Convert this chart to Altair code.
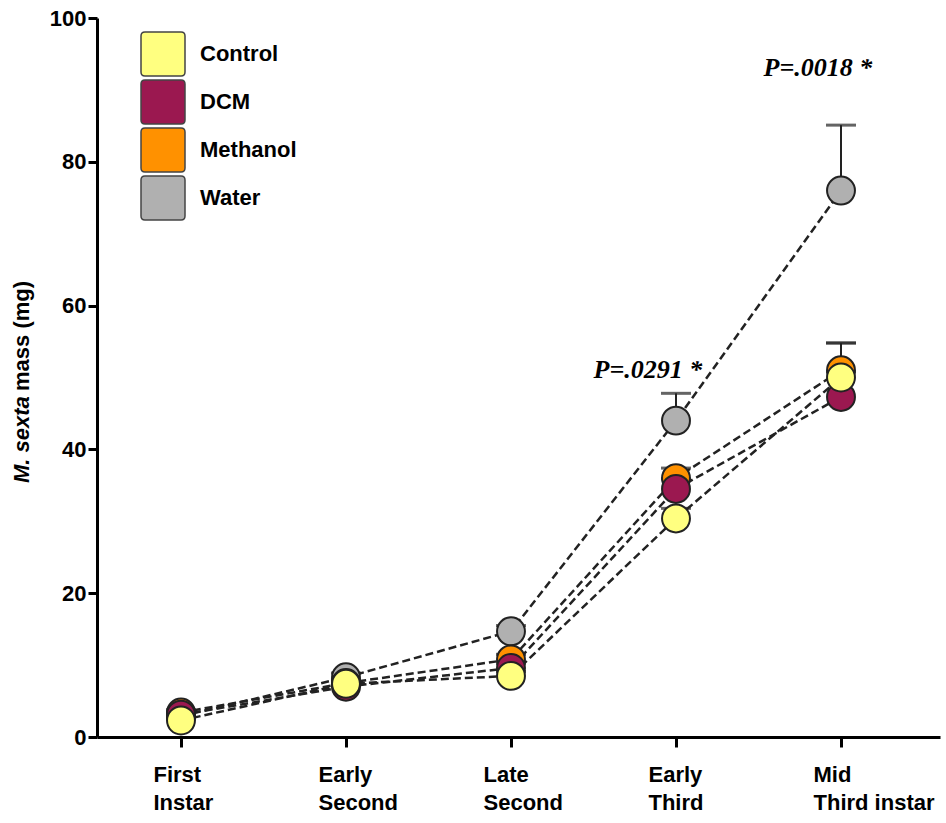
import altair as alt
import pandas as pd

# ---- data ----
stages = ["First|Instar", "Early|Second", "Late|Second", "Early|Third", "Mid|Third instar"]
groups = ["Control", "DCM", "Methanol", "Water"]
colors = ["#FFFF80", "#9B1850", "#FF9100", "#B0B0B0"]

control_mass = [2.3, 7.4, 8.5, 30.4, 50.0]
dcm_mass = [3.1, 7.0, 9.6, 34.5, 47.3]
methanol_mass = [3.4, 7.5, 10.8, 36.0, 51.0]
water_mass = [2.9, 8.3, 14.7, 44.0, 76.0]

control_sem = [0.3, 0.5, 0.6, 1.4, 4.8]
dcm_sem = [0.3, 0.5, 0.6, 1.4, 3.5]
methanol_sem = [0.4, 0.5, 0.7, 1.4, 3.8]
water_sem = [0.3, 0.6, 0.8, 3.8, 9.1]

p_texts = ["P=.0291 *", "P=.0018 *"]
p_stage = [2.83, 3.86]
p_mass = [51.0, 93.0]

# ---- table ----
series = {
    "Control": (control_mass, control_sem),
    "DCM": (dcm_mass, dcm_sem),
    "Methanol": (methanol_mass, methanol_sem),
    "Water": (water_mass, water_sem),
}
draw_order = {"Water": 0, "Methanol": 1, "DCM": 2, "Control": 3}
rows = []
for g, (m, s) in series.items():
    for i, st in enumerate(stages):
        rows.append({"idx": i, "stage": st, "group": g, "mass": m[i],
                     "upper": m[i] + s[i], "draw": draw_order[g]})
df = pd.DataFrame(rows)
ann = pd.DataFrame({"x": p_stage, "y": p_mass, "text": p_texts})

label_expr = "split([" + ",".join("'%s'" % s for s in stages) + "][datum.value], '|')"

FONT = "Liberation Sans"
rounded_sq = ("M -0.82 -1 L 0.82 -1 Q 1 -1 1 -0.82 L 1 0.82 Q 1 1 0.82 1 "
              "L -0.82 1 Q -1 1 -1 0.82 L -1 -0.82 Q -1 -1 -0.82 -1 Z")

x_scale = alt.Scale(domain=[-0.509, 4.6], nice=False, zero=False)
y_scale = alt.Scale(domain=[0, 100], nice=False)

x_enc = alt.X("idx:Q", scale=x_scale, title=None,
              axis=alt.Axis(values=[0, 1, 2, 3, 4], labelExpr=label_expr,
                            labelAlign="left", labelOffset=-28, labelPadding=17,
                            labelLineHeight=28, labelBaseline="top",
                            tickSize=10, tickWidth=3, domainWidth=3,
                            domainColor="black", tickColor="black",
                            labelFont=FONT, labelFontSize=22, labelFontWeight="bold",
                            labelColor="black", grid=False))
y_enc = alt.Y("mass:Q", scale=y_scale, title=None,
              axis=alt.Axis(values=[0, 20, 40, 60, 80, 100], tickSize=9, tickWidth=3,
                            domainWidth=3, domainColor="black", tickColor="black",
                            labelFont=FONT, labelFontSize=22, labelFontWeight="bold",
                            labelColor="black", labelPadding=2, grid=False))

base = alt.Chart(df)

err = base.mark_rule(color="#222", strokeWidth=2).encode(
    x=x_enc, y=y_enc, y2="upper:Q")
cap = base.mark_tick(orient="horizontal", size=30, thickness=3, color="#222").encode(
    x="idx:Q", y="upper:Q")

lines = base.mark_line(color="#222", strokeWidth=2.5, strokeDash=[8, 4]).encode(
    x="idx:Q", y="mass:Q", detail="group:N", order="idx:Q")

points = base.mark_point(filled=True, size=780, opacity=1, stroke="#222",
                         strokeWidth=2).encode(
    x="idx:Q", y="mass:Q",
    fill=alt.Fill("group:N", scale=alt.Scale(domain=groups, range=colors),
                  legend=alt.Legend(title=None, orient="none", legendX=43, legendY=13,
                                    symbolType=rounded_sq, symbolSize=1936,
                                    symbolStrokeColor="#444", symbolStrokeWidth=1.5,
                                    symbolOpacity=1, rowPadding=-4, labelOffset=14,
                                    labelFont=FONT, labelFontSize=22,
                                    labelFontWeight="bold", labelColor="black",
                                    padding=0)),
    order=alt.Order("draw:Q"))

ptext = alt.Chart(ann).mark_text(font="Liberation Serif", fontSize=26, fontWeight="bold",
                                 fontStyle="italic", color="black").encode(
    x="x:Q", y="y:Q", text="text:N")

title1 = alt.Chart(pd.DataFrame({"t": ["M. sexta"]})).mark_text(
    angle=270, align="left", baseline="middle", font=FONT, fontSize=22,
    fontWeight="bold", fontStyle="italic", color="black").encode(
    x=alt.value(-75), y=alt.value(465), text="t:N")
title2 = alt.Chart(pd.DataFrame({"t": ["mass (mg)"]})).mark_text(
    angle=270, align="left", baseline="middle", font=FONT, fontSize=22,
    fontWeight="bold", color="black").encode(
    x=alt.value(-75), y=alt.value(373), text="t:N")

chart = alt.layer(err, cap, lines, points, ptext, title1, title2).properties(
    width=843, height=719,
    autosize=alt.AutoSizeParams(type="none"),
    padding={"left": 97, "top": 18, "right": 6, "bottom": 86},
    background="white",
).configure_view(stroke=None)

chart.save("out.html", embed_options={"renderer": "svg", "actions": False})
